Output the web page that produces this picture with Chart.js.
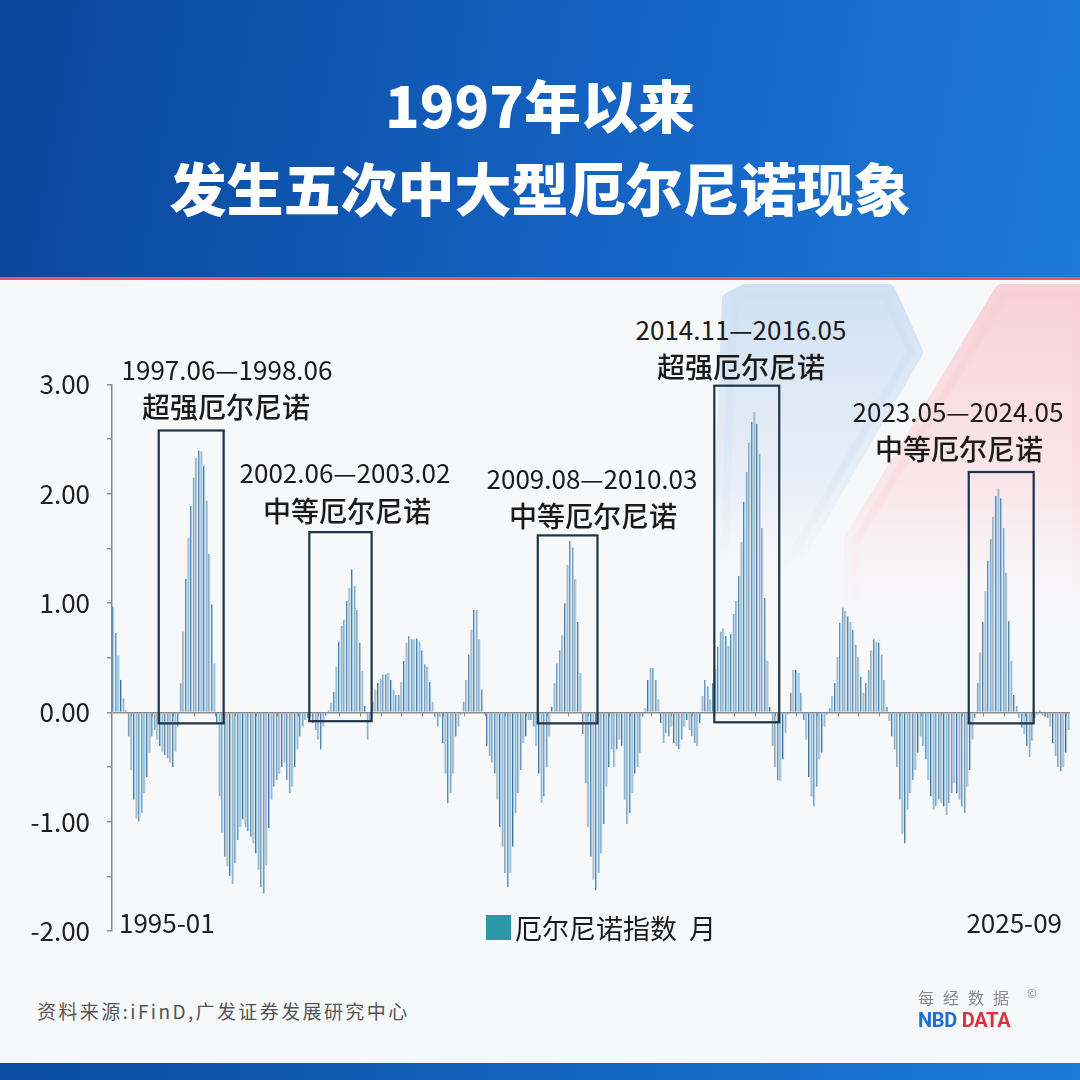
<!DOCTYPE html>
<html lang="zh-CN">
<head>
<meta charset="utf-8">
<title>1997年以来发生五次中大型厄尔尼诺现象</title>
<script src="https://cdn.jsdelivr.net/npm/chart.js@4.4.1/dist/chart.umd.min.js"></script>
<style>
  * { margin: 0; padding: 0; box-sizing: border-box; }
  html, body { width: 1080px; height: 1080px; overflow: hidden; }
  body {
    position: relative;
    background: #f7f8fa;
    font-family: 'Noto Sans CJK SC', 'Noto Sans', sans-serif;
    color: #1a1a1a;
  }
  .header {
    position: absolute; left: 0; top: 0; width: 1080px; height: 277px;
    background: linear-gradient(100deg, #0a4699 0%, #1462c2 55%, #1e79d9 100%);
  }
  .header-line { position: absolute; left: 0; top: 277px; width: 1080px; height: 3px; background: #e25a67; }
  .title {
    position: absolute; left: 0; width: 1080px; text-align: center;
    color: #fff; font-weight: 900; font-size: 57px; line-height: 1;
  }
  #deco { position: absolute; left: 0; top: 280px; }
  #chartBox { position: absolute; left: 0; top: 352px; width: 1080px; height: 618px; }
  .note {
    position: absolute; transform: translate(-50%, -50%);
    white-space: nowrap; line-height: 1; color: #1a1a1a;
  }
  .note.date { font-size: 26px; font-weight: 400; }
  .note.kind { font-size: 28px; font-weight: 500; }
  .xlabel { position: absolute; top: 922px; transform: translateY(-50%); font-size: 26px; line-height: 1; color: #1f1f1f; }
  .legend {
    position: absolute; left: 486px; top: 911px; height: 32px;
    display: flex; align-items: center; font-size: 27px; line-height: 1;
  }
  .legend i { display: inline-block; width: 25px; height: 25px; background: #2a98a8; margin-right: 4px; }
  .source {
    position: absolute; left: 37px; top: 1001px; font-size: 19px; line-height: 1;
    color: #555; letter-spacing: 2.4px;
  }
  .logo-cn {
    position: absolute; left: 918px; top: 989px; font-size: 16px; line-height: 1;
    color: #8a8a8a; letter-spacing: 9px;
  }
  .logo-c { position: absolute; left: 1027px; top: 984px; font-size: 12px; color: #8a8a8a; }
  .logo-en {
    position: absolute; left: 918px; top: 1010px; font-family: Roboto, sans-serif;
    font-weight: 700; font-size: 20px; line-height: 1; letter-spacing: -0.3px;
  }
  .logo-en .nbd { color: #1e6fd2; }
  .logo-en .data { color: #e0303f; }
  .footer-bar {
    position: absolute; left: 0; top: 1063px; width: 1080px; height: 17px;
    background: linear-gradient(90deg, #0b4ba0 0%, #1b7bd9 100%);
  }
</style>
</head>
<body>
<div class="header"></div>
<div class="header-line"></div>
<div class="title" style="top: 75px;">1997年以来</div>
<div class="title" style="top: 158px;">发生五次中大型厄尔尼诺现象</div>

<svg id="deco" width="1080" height="380" viewBox="0 280 1080 380">
  <defs>
    <linearGradient id="gBlue" x1="0" y1="0" x2="0" y2="1">
      <stop offset="0" stop-color="#cfe0f3" stop-opacity="0.95"/>
      <stop offset="0.6" stop-color="#dce8f5" stop-opacity="0.6"/>
      <stop offset="1" stop-color="#f7f8fa" stop-opacity="0"/>
    </linearGradient>
    <linearGradient id="gPink" x1="0" y1="0" x2="0" y2="1">
      <stop offset="0" stop-color="#f8cfd7" stop-opacity="0.95"/>
      <stop offset="0.6" stop-color="#fadde2" stop-opacity="0.6"/>
      <stop offset="1" stop-color="#f7f8fa" stop-opacity="0"/>
    </linearGradient>
  </defs>
  <polygon points="745,292 888,292 915,352 800,550 752,610 718,610 730,300"
           fill="url(#gBlue)" stroke="url(#gBlue)" stroke-width="16" stroke-linejoin="round"/>
  <polygon points="1002,292 1080,292 1080,640 850,640 852,540"
           fill="url(#gPink)" stroke="url(#gPink)" stroke-width="16" stroke-linejoin="round"/>
</svg>

<div id="chartBox"><canvas id="ninoChart"></canvas></div>

<div class="note date" style="left: 227px; top: 369px;">1997.06—1998.06</div>
<div class="note kind" style="left: 226px; top: 406px;">超强厄尔尼诺</div>
<div class="note date" style="left: 345px; top: 472px;">2002.06—2003.02</div>
<div class="note kind" style="left: 347px; top: 510px;">中等厄尔尼诺</div>
<div class="note date" style="left: 592px; top: 478px;">2009.08—2010.03</div>
<div class="note kind" style="left: 593px; top: 515px;">中等厄尔尼诺</div>
<div class="note date" style="left: 741px; top: 329px;">2014.11—2016.05</div>
<div class="note kind" style="left: 741px; top: 366px;">超强厄尔尼诺</div>
<div class="note date" style="left: 958px; top: 411px;">2023.05—2024.05</div>
<div class="note kind" style="left: 959px; top: 448px;">中等厄尔尼诺</div>

<div class="xlabel" id="xFirst" style="left: 119px;"></div>
<div class="xlabel" id="xLast" style="right: 18px;"></div>

<div class="legend"><i></i>厄尔尼诺指数&nbsp;&nbsp;月</div>

<div class="source">资料来源:iFinD,广发证券发展研究中心</div>
<div class="logo-cn">每经数据</div>
<div class="logo-c">©</div>
<div class="logo-en"><span class="nbd">NBD</span> <span class="data">DATA</span></div>
<div class="footer-bar"></div>

<script>
'use strict';

// 月份：1995-01 至 2025-09
const firstYear = 1995;
const lastYear = 2025;
const lastMonth = 9;

// 厄尔尼诺指数（月），按年份一行
const ninoIndex = [
  0.97, 0.73, 0.52, 0.30, 0.13, 0.02, -0.22, -0.53, -0.80, -0.97, -1.00, -0.92,   // 1995
  -0.74, -0.59, -0.37, -0.22, -0.16, -0.25, -0.31, -0.36, -0.39, -0.42, -0.46, -0.50, // 1996
  -0.36, -0.13, 0.27, 0.74, 1.22, 1.60, 1.89, 2.15, 2.33, 2.40, 2.39, 2.26,         // 1997
  1.94, 1.45, 0.99, 0.45, -0.10, -0.77, -1.10, -1.32, -1.41, -1.50, -1.57, -1.38,   // 1998
  -1.17, -1.05, -0.98, -1.05, -1.09, -1.14, -1.20, -1.29, -1.44, -1.60, -1.66, -1.40, // 1999
  -1.06, -0.80, -0.68, -0.62, -0.56, -0.50, -0.46, -0.62, -0.74, -0.68, -0.50, -0.34, // 2000
  -0.22, -0.13, -0.07, -0.05, -0.04, -0.10, -0.16, -0.25, -0.34, -0.13, -0.03, 0.02, // 2001
  0.09, 0.19, 0.42, 0.65, 0.79, 0.85, 1.02, 1.14, 1.31, 1.16, 0.94, 0.64,           // 2002
  0.38, 0.06, -0.25, -0.07, 0.10, 0.21, 0.27, 0.31, 0.35, 0.35, 0.36, 0.30,         // 2003
  0.21, 0.16, 0.16, 0.28, 0.47, 0.64, 0.70, 0.67, 0.67, 0.68, 0.65, 0.57,           // 2004
  0.44, 0.42, 0.28, 0.10, -0.04, -0.13, -0.04, -0.28, -0.56, -0.83, -0.74, -0.56,   // 2005
  -0.22, -0.13, -0.02, 0.10, 0.30, 0.53, 0.76, 0.94, 0.94, 0.67, 0.21, -0.02,       // 2006
  -0.31, -0.40, -0.46, -0.56, -0.80, -1.05, -1.23, -1.47, -1.60, -1.47, -1.23, -0.92, // 2007
  -0.74, -0.53, -0.28, -0.22, -0.07, -0.07, -0.13, -0.31, -0.56, -0.83, -0.77, -0.50, // 2008
  -0.22, 0.05, 0.27, 0.45, 0.57, 0.71, 1.00, 1.35, 1.57, 1.51, 1.22, 0.83,          // 2009
  0.36, -0.20, -0.65, -1.05, -1.32, -1.53, -1.63, -1.47, -1.29, -1.02, -0.68, -0.50, // 2010
  -0.34, -0.50, -0.34, -0.25, -0.31, -0.80, -1.02, -0.92, -0.74, -0.56, -0.50, -0.37, // 2011
  -0.04, 0.04, 0.30, 0.41, 0.41, 0.30, 0.12, -0.10, -0.28, -0.19, -0.22, -0.13,     // 2012
  -0.28, -0.31, -0.34, -0.25, -0.13, -0.07, -0.16, -0.22, -0.28, -0.31, -0.10, 0.15, // 2013
  0.30, 0.24, 0.12, 0.27, 0.40, 0.60, 0.74, 0.77, 0.70, 0.61, 0.72, 0.90,           // 2014
  1.02, 1.25, 1.56, 1.93, 2.20, 2.47, 2.66, 2.75, 2.64, 2.37, 1.69, 1.05,           // 2015
  0.47, 0.05, -0.31, -0.50, -0.62, -0.63, -0.43, -0.19, -0.02, 0.18, 0.39, 0.39,    // 2016
  0.36, 0.18, -0.07, -0.25, -0.59, -0.77, -0.86, -0.68, -0.43, -0.37, -0.13, -0.02, // 2017
  0.04, 0.15, 0.27, 0.51, 0.82, 0.96, 0.93, 0.88, 0.83, 0.76, 0.62, 0.51,           // 2018
  0.33, 0.18, 0.27, 0.39, 0.57, 0.67, 0.65, 0.64, 0.53, 0.30, 0.05, -0.08,          // 2019
  -0.22, -0.34, -0.50, -0.80, -1.11, -1.20, -0.89, -0.74, -0.62, -0.53, -0.37, -0.22, // 2020
  -0.31, -0.43, -0.62, -0.77, -0.89, -0.86, -0.80, -0.83, -0.86, -0.94, -0.83, -0.74, // 2021
  -0.65, -0.74, -0.80, -0.86, -0.92, -0.68, -0.53, -0.25, -0.05, 0.27, 0.55, 0.83,  // 2022
  1.11, 1.39, 1.59, 1.79, 1.98, 2.05, 1.96, 1.69, 1.28, 0.84, 0.47, 0.16,           // 2023
  0.06, -0.05, -0.14, -0.20, -0.31, -0.41, -0.26, -0.05, -0.02, 0.02, -0.03, -0.04, // 2024
  -0.05, -0.13, -0.28, -0.40, -0.50, -0.54, -0.50, -0.37, -0.16                     // 2025
];

// 五次中大型厄尔尼诺的框（按图中框的月份范围与数值范围）
const eventStart = ['1996-07', '2001-05', '2008-09', '2014-05', '2022-07'];
const eventEnd = ['1998-07', '2003-04', '2010-07', '2016-05', '2024-07'];
const eventTop = [2.58, 1.65, 1.62, 2.99, 2.20];
const eventBottom = [-0.10, -0.08, -0.10, -0.09, -0.10];

// 纵轴范围
const yMin = -2;
const yMax = 3;

const months = [];
for (let y = firstYear; y <= lastYear; y++) {
  const end = y === lastYear ? lastMonth : 12;
  for (let m = 1; m <= end; m++) {
    months.push(y + '-' + String(m).padStart(2, '0'));
  }
}

// 横轴只标首尾两个月份
document.getElementById('xFirst').textContent = months[0];
document.getElementById('xLast').textContent = months[months.length - 1];

const axisGrey = '#8c8c8c';
const tickFont = { family: "'Noto Sans CJK SC', 'Noto Sans', sans-serif", size: 26 };

// 零轴上的小刻度 + 事件框
const eventBoxes = {
  id: 'eventBoxes',
  afterDatasetsDraw(chart) {
    const { ctx, scales: { x, y } } = chart;
    const y0 = y.getPixelForValue(0);
    ctx.save();
    ctx.strokeStyle = axisGrey;
    ctx.lineWidth = 1;
    for (let i = 7; i < months.length; i += 8) {
      const px = Math.round(x.getPixelForValue(i)) + 0.5;
      ctx.beginPath();
      ctx.moveTo(px, y0);
      ctx.lineTo(px, y0 + 4);
      ctx.stroke();
    }
    ctx.strokeStyle = '#1f3346';
    ctx.lineWidth = 2.2;
    eventStart.forEach((start, k) => {
      const x1 = x.getPixelForValue(months.indexOf(start) - 0.5);
      const x2 = x.getPixelForValue(months.indexOf(eventEnd[k]) + 0.5);
      const y1 = y.getPixelForValue(eventTop[k]);
      const y2 = y.getPixelForValue(eventBottom[k]);
      ctx.strokeRect(x1, y1, x2 - x1, y2 - y1);
    });
    ctx.restore();
  }
};

new Chart(document.getElementById('ninoChart'), {
  type: 'bar',
  data: {
    labels: months,
    datasets: [{
      label: '厄尔尼诺指数 月',
      data: ninoIndex,
      backgroundColor: '#a3c8e0',
      borderColor: '#3d73a0',
      borderWidth: { left: 1 },
      barPercentage: 0.85,
      categoryPercentage: 1
    }]
  },
  options: {
    responsive: true,
    maintainAspectRatio: false,
    animation: false,
    layout: { padding: { top: 0, right: 10, left: 0, bottom: 39 } },
    plugins: {
      legend: { display: false },
      tooltip: { enabled: false }
    },
    scales: {
      x: {
        display: false
      },
      y: {
        min: yMin,
        max: yMax,
        border: { display: true, color: axisGrey, width: 1.5 },
        grid: {
          drawOnChartArea: true,
          color: (c) => (c.tick && c.tick.value === 0) ? axisGrey : 'rgba(0,0,0,0)',
          lineWidth: 1.5,
          tickColor: axisGrey,
          tickLength: 5
        },
        ticks: {
          stepSize: 0.5,
          padding: 17,
          color: '#1f1f1f',
          font: tickFont,
          callback: (v) => Number.isInteger(v) ? v.toFixed(2) : ''
        },
        afterFit: (scale) => { scale.width = 112; }
      }
    }
  },
  plugins: [eventBoxes]
});
</script>
</body>
</html>
